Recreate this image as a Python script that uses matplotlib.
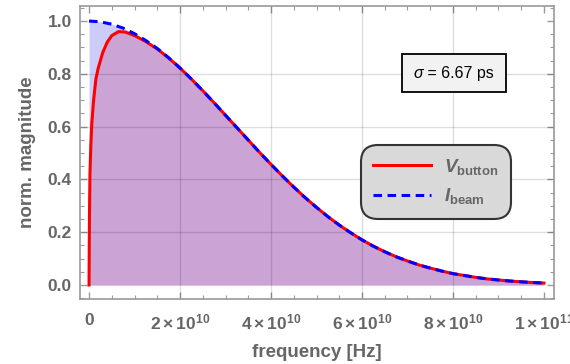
import numpy as np
import matplotlib
matplotlib.use("Agg")
import matplotlib.pyplot as plt
from matplotlib.ticker import MultipleLocator, FixedLocator, FormatStrFormatter
from matplotlib.offsetbox import TextArea, HPacker, AnnotationBbox

plt.rcParams['font.family'] = ['Liberation Sans', 'DejaVu Sans']
plt.rcParams['mathtext.fontset'] = 'custom'
plt.rcParams['mathtext.rm'] = 'Liberation Sans:bold'
plt.rcParams['mathtext.bf'] = 'Liberation Sans:bold'
plt.rcParams['mathtext.it'] = 'Liberation Sans:bold:italic'

###########################
# Data (frequency in units of 1e10 Hz)
###########################

beam_freq = [0, 0.25, 0.5, 0.75, 1.0, 1.25, 1.5, 1.75, 2.0, 2.25, 2.5, 2.75, 3.0,
             3.25, 3.5, 3.75, 4.0, 4.25, 4.5, 4.75, 5.0, 5.25, 5.5, 5.75, 6.0,
             6.25, 6.5, 6.75, 7.0, 7.25, 7.5, 7.75, 8.0, 8.25, 8.5, 8.75, 9.0,
             9.25, 9.5, 9.75, 10.0]
beam_mag = [1.000, 0.997, 0.988, 0.973, 0.952, 0.926, 0.896, 0.861, 0.822, 0.780,
            0.736, 0.690, 0.643, 0.596, 0.549, 0.502, 0.457, 0.413, 0.371, 0.331,
            0.294, 0.259, 0.227, 0.198, 0.171, 0.147, 0.126, 0.107, 0.091, 0.076,
            0.064, 0.053, 0.043, 0.036, 0.029, 0.023, 0.019, 0.015, 0.012, 0.0095,
            0.0074]

button_freq = [0, 0.005, 0.01, 0.02, 0.04, 0.06, 0.1, 0.15, 0.2, 0.3, 0.4, 0.5,
               0.65, 0.8, 1.0, 1.25, 1.5, 1.75, 2.0, 2.25, 2.5, 2.75, 3.0,
               3.25, 3.5, 3.75, 4.0, 4.25, 4.5, 4.75, 5.0, 5.25, 5.5, 5.75, 6.0,
               6.25, 6.5, 6.75, 7.0, 7.25, 7.5, 7.75, 8.0, 8.25, 8.5, 8.75, 9.0,
               9.25, 9.5, 9.75, 10.0]
button_mag = [0.0, 0.15, 0.27, 0.42, 0.53, 0.61, 0.70, 0.78, 0.82, 0.88, 0.92, 0.945,
              0.960, 0.958, 0.945, 0.922, 0.894, 0.860, 0.822, 0.780,
              0.736, 0.690, 0.643, 0.596, 0.549, 0.502, 0.457, 0.413, 0.371, 0.331,
              0.294, 0.259, 0.227, 0.198, 0.171, 0.147, 0.126, 0.107, 0.091, 0.076,
              0.064, 0.053, 0.043, 0.036, 0.029, 0.023, 0.019, 0.015, 0.012, 0.0095,
              0.0074]

x_ticks = [0, 2, 4, 6, 8, 10]
x_tick_labels = ['0', r'$2\times10^{10}$', r'$4\times10^{10}$', r'$6\times10^{10}$',
                 r'$8\times10^{10}$', r'$1\times10^{11}$']

###########################
# Plot
###########################

GRAY = '#666666'
FRAME = '#9a9a9a'

bf = np.array(beam_freq) * 1e10
bm = np.array(beam_mag)
vf = np.array(button_freq) * 1e10
vm = np.array(button_mag)

fig = plt.figure(figsize=(5.7, 3.64), dpi=100)
ax = fig.add_axes([0.1404, 0.1786, 0.8315, 0.8057])

ax.fill_between(bf, 0, bm, color='#ccccfb', lw=0, zorder=1)
ax.fill_between(vf, 0, vm, color='#cba3d5', lw=0, zorder=1.5)

ax.plot(vf, vm, color='#ff0000', lw=2.2, zorder=3, label=r'$V_{\mathrm{button}}$')
ax.plot(bf, bm, color='#0000ff', lw=2.2, ls=(0, (2.8, 1.8)), zorder=4,
        label=r'$I_{\mathrm{beam}}$')

ax.set_xlim(-0.198e10, 10.22e10)
ax.set_ylim(-0.053, 1.058)

ax.xaxis.set_major_locator(FixedLocator([t * 1e10 for t in x_ticks]))
ax.set_xticklabels(x_tick_labels)
ax.xaxis.set_minor_locator(MultipleLocator(0.5e10))
ax.yaxis.set_major_locator(MultipleLocator(0.2))
ax.yaxis.set_minor_locator(MultipleLocator(0.05))
ax.yaxis.set_major_formatter(FormatStrFormatter('%.1f'))

ax.tick_params(which='both', direction='in', top=True, right=True, color=FRAME,
               labelcolor=GRAY, labelsize=12.5)
ax.tick_params(which='major', length=5, width=1)
ax.tick_params(which='minor', length=3, width=0.8)
ax.tick_params(axis='x', pad=10)
ax.tick_params(axis='y', pad=6)
for lab in ax.get_xticklabels() + ax.get_yticklabels():
    lab.set_fontweight('bold')

for sp in ax.spines.values():
    sp.set_color(FRAME)
    sp.set_linewidth(1.2)

for t in [2, 4, 6, 8]:
    ax.axvline(t * 1e10, color='black', alpha=0.13, lw=1, zorder=2)
for t in [0.2, 0.4, 0.6, 0.8]:
    ax.axhline(t, color='black', alpha=0.13, lw=1, zorder=2)

ax.set_xlabel('frequency [Hz]', fontsize=13.5, fontweight='bold', color=GRAY, labelpad=8)
ax.set_ylabel('norm. magnitude', fontsize=13.5, fontweight='bold', color=GRAY, labelpad=8)

# sigma box: italic sigma, upright rest
sig = TextArea('σ', textprops=dict(fontsize=11.5, style='italic', color='black'))
rest = TextArea(' = 6.67 ps', textprops=dict(fontsize=11.5, color='black'))
box = HPacker(children=[sig, rest], align='baseline', pad=0, sep=0)
ab = AnnotationBbox(box, (8.02e10, 0.803), xycoords='data', box_alignment=(0.5, 0.5),
                    frameon=True, zorder=6,
                    bboxprops=dict(boxstyle='square,pad=0.85', fc='#f2f2f2',
                                   ec='black', lw=1.3))
ax.add_artist(ab)

leg = ax.legend(loc='center', bbox_to_anchor=(0.751, 0.40), fontsize=13.5,
                handlelength=3.1, labelspacing=0.5, borderpad=0.45, handletextpad=0.7,
                fancybox=True, framealpha=1, facecolor='#d9d9d9', edgecolor='#333333')
leg.get_frame().set_linewidth(1.5)
leg.get_frame().set_boxstyle('round,pad=0.2,rounding_size=0.9')
for txt in leg.get_texts():
    txt.set_color(GRAY)
leg.set_zorder(6)

plt.savefig('out.png', dpi=100)
